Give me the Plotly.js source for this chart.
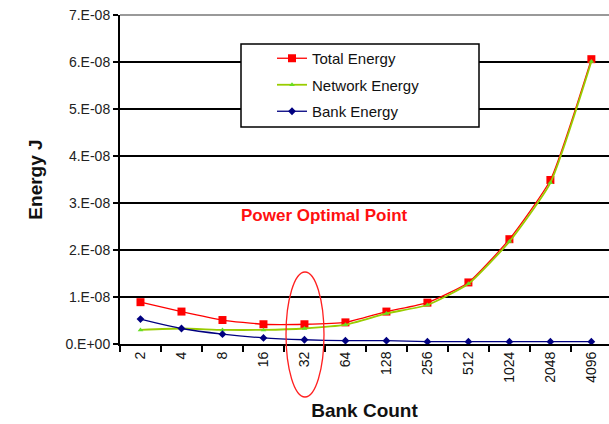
<!DOCTYPE html>
<html>
<head>
<meta charset="utf-8">
<script src="https://cdn.plot.ly/plotly-3.0.1.min.js"></script>
<style>html,body{margin:0;padding:0;background:#fff;overflow:hidden}#chart{width:609px;height:424px}</style>
</head>
<body>
<div id="chart"></div>
<script>
var bankCounts = ["2","4","8","16","32","64","128","256","512","1024","2048","4096"];
var totalEnergy   = [0.89e-8,0.69e-8,0.51e-8,0.42e-8,0.42e-8,0.46e-8,0.69e-8,0.88e-8,1.31e-8,2.23e-8,3.49e-8,6.06e-8];
var networkEnergy = [0.30e-8,0.33e-8,0.30e-8,0.30e-8,0.33e-8,0.41e-8,0.65e-8,0.83e-8,1.28e-8,2.18e-8,3.43e-8,6.01e-8];
var bankEnergy    = [0.53e-8,0.33e-8,0.21e-8,0.13e-8,0.09e-8,0.07e-8,0.07e-8,0.05e-8,0.05e-8,0.05e-8,0.05e-8,0.05e-8];
var yTickVals = [0,1e-8,2e-8,3e-8,4e-8,5e-8,6e-8,7e-8];
var yTickText = ["0.E+00","1.E-08","2.E-08","3.E-08","4.E-08","5.E-08","6.E-08","7.E-08"];

var F = "Liberation Sans, Arial, sans-serif";
var traces = [
  {x: bankCounts, y: totalEnergy, name: "Total Energy", type: "scatter", mode: "lines+markers",
   line: {color: "#ff0000", width: 1.3, shape: "spline", smoothing: 0.5},
   marker: {symbol: "square", size: 8, color: "#ff0000"}, legendgroup: "a"},
  {x: bankCounts, y: networkEnergy, name: "Network Energy", type: "scatter", mode: "lines+markers",
   line: {color: "#99cc00", width: 1.8, shape: "spline", smoothing: 0.5},
   marker: {symbol: "triangle-up", size: 5, color: "#66dd22"}, legendgroup: "b"},
  {x: bankCounts, y: bankEnergy, name: "Bank Energy", type: "scatter", mode: "lines+markers",
   line: {color: "#000080", width: 1.3, shape: "spline", smoothing: 0.5},
   marker: {symbol: "diamond", size: 6, color: "#000080"}, legendgroup: "c"}
];

var L = 120, W = 489, T = 15, H = 329;
function px(x){return (x - L)/W;}
function py(y){return (T + H - y)/H;}

var layout = {
  width: 609, height: 424,
  margin: {l: L, r: 0, t: T, b: 424 - T - H},
  paper_bgcolor: "#fff", plot_bgcolor: "#fff",
  font: {family: F, color: "#000"},
  showlegend: true,
  legend: {x: px(272), y: py(42), xanchor: "left", yanchor: "top",
    bgcolor: "rgba(0,0,0,0)", borderwidth: 0, tracegroupgap: 4,
    font: {family: F, size: 15, color: "#111"}},
  xaxis: {type: "category", range: [-0.5, 11.43], showgrid: false,
    showline: true, linecolor: "#000", linewidth: 2,
    ticks: "outside", tickson: "boundaries", ticklen: 6, tickwidth: 2, tickcolor: "#000",
    tickangle: -90, tickfont: {family: F, size: 14, color: "#111"},
    title: {text: "<b>Bank Count</b>", font: {family: F, size: 19, color: "#111"}, standoff: 22},
    zeroline: false, fixedrange: true},
  yaxis: {range: [0, 7e-8], tickvals: yTickVals, ticktext: yTickText,
    showgrid: true, gridcolor: "#000", gridwidth: 1.4,
    showline: true, linecolor: "#000", linewidth: 2,
    ticks: "outside", ticklen: 5, tickwidth: 2, tickcolor: "#000",
    tickfont: {family: F, size: 14, color: "#222"},
    title: {text: "<b>Energy J</b>", font: {family: F, size: 19, color: "#111"}, standoff: 18},
    zeroline: false, fixedrange: true},
  yaxis2: {range: [0, 7e-8], overlaying: "y", side: "left", tickvals: yTickVals,
    showticklabels: false, showgrid: false, ticks: "inside", ticklen: 5, tickwidth: 2,
    tickcolor: "#000", showline: false, zeroline: false},
  shapes: [
    {type: "line", xref: "paper", yref: "paper", x0: 0, x1: 1, y0: 1, y1: 1,
     line: {color: "#999", width: 2}, layer: "above"},
    {type: "rect", xref: "paper", yref: "paper", x0: px(241), x1: px(479), y0: py(127), y1: py(44),
     fillcolor: "#fff", line: {color: "#000", width: 1.5}, layer: "above"},
    {type: "circle", xref: "paper", yref: "paper", x0: px(286), x1: px(324), y0: py(397), y1: py(272),
     line: {color: "#ff2020", width: 1.3}, layer: "above"}
  ],
  annotations: [
    {text: "<b>Power Optimal Point</b>", xref: "paper", yref: "paper", x: px(324), y: py(216),
     showarrow: false, font: {family: F, size: 17, color: "#ff1010"}}
  ]
};
traces.push({x: bankCounts, y: bankEnergy, yaxis: "y2", type: "scatter", mode: "none", showlegend: false, hoverinfo: "skip"});
Plotly.newPlot("chart", traces, layout, {staticPlot: true});
</script>
</body>
</html>
